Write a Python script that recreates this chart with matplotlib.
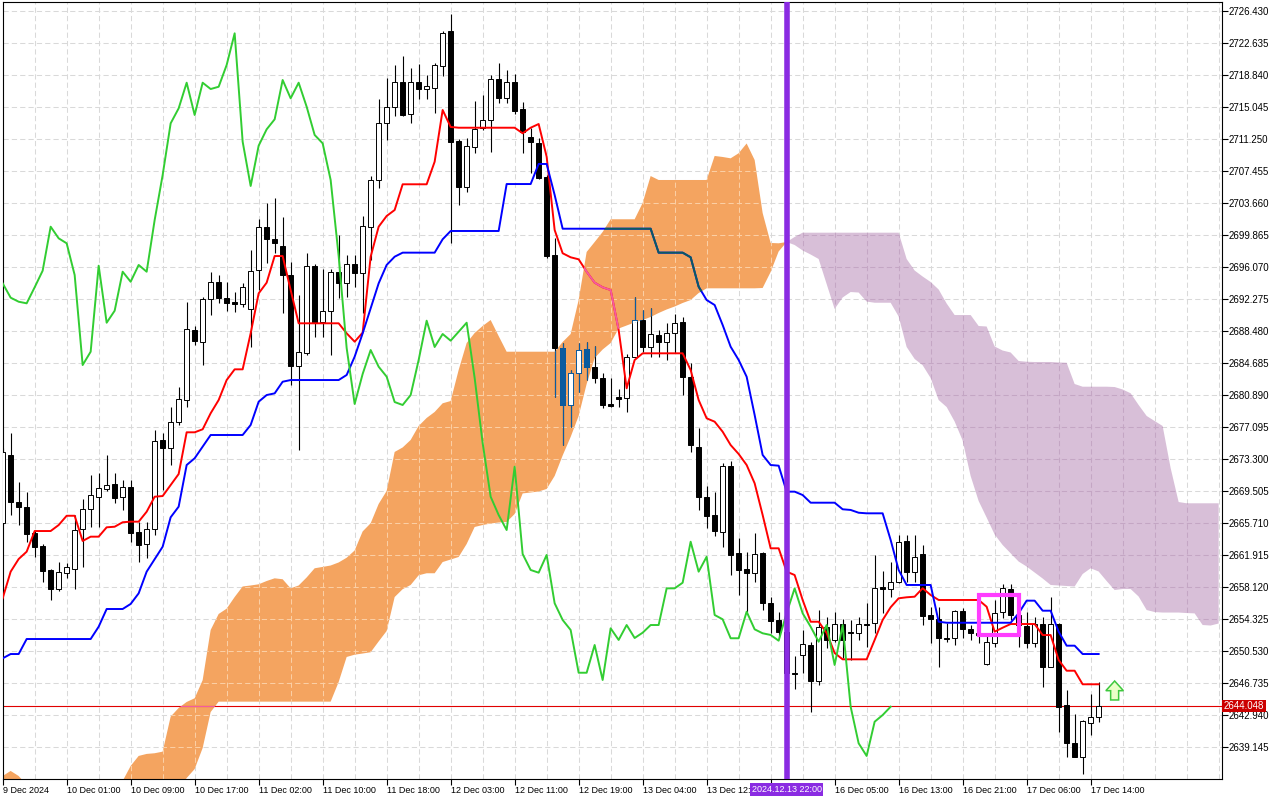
import numpy as np
import matplotlib
matplotlib.use("Agg")
import matplotlib.pyplot as plt
from matplotlib.path import Path
from matplotlib.patches import Rectangle, Polygon

plt.rcParams['font.family'] = ['Liberation Sans', 'DejaVu Sans']

# ======================
# DATA  (gold H1, 9-17 Dec 2024, one value per bar)
# ======================
opens = [
    2665.75, 2673.82, 2668.24, 2667.65, 2664.57, 2663.02, 2660.18, 2657.92, 2659.82, 2660.30,
    2665.04, 2667.41, 2668.83, 2669.78, 2670.38, 2668.83, 2670.02, 2664.69, 2663.26, 2665.04,
    2675.59, 2674.65, 2677.73, 2680.34, 2688.64, 2687.22, 2692.33, 2694.34, 2692.44, 2691.96,
    2691.73, 2691.14, 2695.77, 2700.87, 2699.45, 2698.61, 2695.17, 2684.37, 2685.92, 2696.23,
    2689.60, 2690.90, 2695.53, 2694.22, 2696.47, 2695.41, 2700.87, 2706.44, 2713.20, 2715.10,
    2718.06, 2714.29, 2718.06, 2717.23, 2717.35, 2719.96, 2724.11, 2711.06, 2705.61, 2710.35,
    2712.61, 2713.56, 2718.42, 2716.17, 2718.06, 2714.88, 2711.54, 2710.83, 2706.79, 2697.54,
    2686.51, 2679.75, 2683.54, 2686.39, 2684.25, 2682.95, 2679.87, 2680.70, 2680.58, 2685.44,
    2689.83, 2686.59, 2688.05, 2687.26, 2688.33, 2689.63, 2683.11, 2674.77, 2668.83, 2666.70,
    2664.69, 2672.51, 2662.19, 2660.30, 2659.82, 2662.19, 2656.26, 2654.25, 2652.83, 2647.96,
    2650.09, 2651.28, 2647.01, 2653.42, 2651.88, 2653.77, 2652.83, 2652.71, 2653.77, 2653.89,
    2658.16, 2657.92, 2658.75, 2663.62, 2659.94, 2662.07, 2654.84, 2654.36, 2652.13, 2652.11,
    2655.31, 2653.18, 2652.71, 2649.02, 2651.52, 2655.19, 2657.92, 2654.84, 2653.54, 2651.52,
    2653.77, 2648.67, 2653.77, 2644.17, 2639.66, 2638.00, 2642.03, 2642.74]
highs = [
    2674.65, 2676.43, 2670.61, 2669.43, 2664.80, 2663.26, 2660.30, 2661.12, 2661.01, 2666.70,
    2668.60, 2671.44, 2671.68, 2673.82, 2671.68, 2670.85, 2670.85, 2665.87, 2665.87, 2676.78,
    2676.43, 2679.51, 2681.88, 2691.96, 2689.12, 2692.56, 2695.53, 2695.17, 2694.34, 2693.15,
    2694.22, 2698.14, 2701.82, 2703.71, 2704.30, 2702.05, 2696.71, 2692.80, 2697.78, 2696.47,
    2695.88, 2695.88, 2699.92, 2697.54, 2697.54, 2702.17, 2706.91, 2716.05, 2718.54, 2720.08,
    2721.15, 2719.72, 2720.20, 2718.89, 2720.32, 2724.11, 2726.13, 2711.30, 2711.42, 2715.81,
    2716.52, 2718.89, 2720.32, 2719.49, 2719.01, 2715.69, 2712.61, 2711.42, 2707.03, 2699.57,
    2687.10, 2683.90, 2687.10, 2687.26, 2686.74, 2683.51, 2682.95, 2681.64, 2685.80, 2692.60,
    2691.02, 2691.22, 2688.64, 2689.44, 2690.54, 2690.22, 2684.69, 2677.02, 2670.14, 2669.43,
    2672.87, 2673.11, 2663.97, 2662.31, 2664.57, 2662.31, 2656.97, 2655.19, 2653.66, 2649.97,
    2653.06, 2651.64, 2655.43, 2654.60, 2655.23, 2654.36, 2654.25, 2654.64, 2656.23, 2661.96,
    2660.06, 2661.12, 2664.33, 2664.33, 2664.33, 2663.14, 2655.79, 2655.79, 2653.85, 2655.43,
    2655.67, 2653.66, 2653.30, 2652.47, 2656.62, 2658.51, 2658.51, 2655.19, 2655.19, 2654.60,
    2654.60, 2656.97, 2653.89, 2645.94, 2643.10, 2642.39, 2645.47, 2646.89]
lows = [
    2665.51, 2666.70, 2665.51, 2663.50, 2661.72, 2658.75, 2656.62, 2657.69, 2659.23, 2657.92,
    2660.54, 2665.28, 2665.28, 2669.55, 2668.12, 2667.29, 2663.50, 2661.12, 2661.60, 2664.33,
    2669.66, 2672.63, 2677.38, 2679.51, 2686.86, 2684.49, 2690.42, 2691.85, 2690.90, 2690.78,
    2691.38, 2686.63, 2693.39, 2696.59, 2697.78, 2690.66, 2682.12, 2674.41, 2685.68, 2687.81,
    2687.81, 2685.68, 2692.44, 2692.56, 2693.75, 2690.66, 2696.95, 2705.49, 2711.18, 2714.05,
    2714.05, 2713.20, 2716.05, 2716.05, 2714.39, 2718.78, 2698.97, 2703.47, 2705.02, 2709.64,
    2712.37, 2709.76, 2715.57, 2715.57, 2714.29, 2709.64, 2707.27, 2706.56, 2697.18, 2680.70,
    2675.00, 2677.14, 2681.29, 2682.71, 2682.36, 2679.35, 2679.51, 2679.51, 2678.96, 2685.44,
    2686.04, 2685.47, 2685.47, 2685.09, 2685.88, 2680.93, 2674.21, 2667.29, 2665.16, 2664.21,
    2662.91, 2659.58, 2657.21, 2655.19, 2658.75, 2655.43, 2652.69, 2652.23, 2647.72, 2646.06,
    2647.96, 2643.34, 2646.54, 2650.92, 2651.64, 2649.73, 2649.50, 2651.88, 2651.04, 2652.71,
    2655.07, 2656.97, 2658.63, 2658.75, 2658.75, 2653.66, 2651.48, 2648.71, 2651.67, 2651.28,
    2652.11, 2651.88, 2651.52, 2648.90, 2651.04, 2654.48, 2654.25, 2651.04, 2650.92, 2651.04,
    2646.30, 2648.67, 2640.96, 2638.00, 2638.00, 2635.98, 2640.60, 2642.15]
closes = [
    2674.17, 2668.24, 2667.65, 2664.45, 2662.90, 2660.06, 2657.92, 2659.94, 2660.54, 2664.92,
    2667.41, 2669.07, 2669.90, 2670.26, 2668.72, 2670.02, 2664.57, 2663.14, 2665.04, 2675.48,
    2674.65, 2677.73, 2680.46, 2688.76, 2687.34, 2692.33, 2694.34, 2692.44, 2691.85, 2691.73,
    2693.75, 2695.65, 2700.87, 2699.45, 2698.97, 2695.17, 2684.37, 2686.03, 2696.23, 2689.48,
    2690.90, 2695.53, 2694.22, 2696.47, 2695.41, 2700.99, 2706.44, 2713.20, 2715.10, 2718.06,
    2714.17, 2718.06, 2717.23, 2717.59, 2720.08, 2723.88, 2710.94, 2705.61, 2710.47, 2712.49,
    2713.56, 2718.42, 2716.17, 2718.06, 2714.64, 2712.13, 2710.94, 2706.67, 2697.42, 2686.51,
    2679.75, 2683.54, 2686.27, 2684.25, 2682.95, 2679.75, 2679.63, 2680.46, 2685.44, 2689.83,
    2686.63, 2688.17, 2687.26, 2688.33, 2689.51, 2683.11, 2675.00, 2668.83, 2666.58, 2664.81,
    2672.51, 2661.96, 2660.18, 2659.82, 2662.07, 2656.26, 2654.13, 2652.83, 2647.96, 2647.84,
    2651.40, 2647.01, 2653.42, 2651.88, 2653.77, 2651.88, 2652.71, 2653.77, 2653.66, 2658.04,
    2657.92, 2658.75, 2663.50, 2659.94, 2661.72, 2654.72, 2654.36, 2652.11, 2652.01, 2655.31,
    2653.18, 2652.71, 2652.47, 2651.60, 2655.07, 2658.04, 2654.84, 2653.66, 2651.52, 2653.77,
    2648.67, 2653.77, 2643.93, 2639.66, 2638.00, 2642.27, 2642.74, 2644.05]

tenkan = [
    2656.82, 2659.98, 2661.48, 2662.35, 2664.80, 2664.80, 2664.80, 2665.51, 2666.61, 2666.61,
    2663.62, 2664.13, 2664.13, 2665.24, 2665.31, 2665.84, 2665.91, 2665.91, 2667.09, 2668.87,
    2668.95, 2670.26, 2671.56, 2676.51, 2676.51, 2676.87, 2678.77, 2680.34, 2682.71, 2683.98,
    2683.98, 2688.25, 2692.99, 2694.26, 2697.42, 2697.42, 2693.39, 2689.44, 2689.44, 2689.44,
    2689.44, 2689.44, 2689.44, 2688.25, 2687.26, 2688.33, 2697.34, 2700.90, 2702.17, 2702.88,
    2705.93, 2705.93, 2705.93, 2705.93, 2708.61, 2714.74, 2712.73, 2712.64, 2712.64, 2712.64,
    2712.64, 2712.64, 2712.64, 2712.64, 2712.64, 2711.98, 2712.64, 2713.08, 2709.20, 2700.51,
    2697.75, 2697.27, 2697.03, 2695.56, 2694.26, 2693.71, 2693.39, 2688.65, 2681.73, 2685.09,
    2685.88, 2685.88, 2685.88, 2685.88, 2685.88, 2685.88, 2683.90, 2680.34, 2678.17, 2677.77,
    2676.58, 2675.00, 2673.94, 2672.63, 2670.46, 2666.70, 2662.75, 2662.75, 2659.98, 2659.58,
    2656.62, 2654.04, 2654.04, 2652.71, 2650.33, 2649.58, 2649.58, 2649.58, 2649.58, 2651.88,
    2654.25, 2655.76, 2656.82, 2656.94, 2657.01, 2658.01, 2657.21, 2656.62, 2656.62, 2656.62,
    2656.62, 2656.62, 2656.62, 2655.82, 2652.86, 2653.33, 2653.77, 2653.77, 2653.77, 2653.77,
    2652.46, 2652.46, 2649.50, 2648.23, 2648.23, 2646.62, 2646.62, 2646.62]
kijun = [
    2649.70, 2650.21, 2650.21, 2651.99, 2651.99, 2651.99, 2651.99, 2651.99, 2651.99, 2651.99,
    2651.99, 2651.99, 2653.45, 2655.55, 2655.55, 2655.55, 2656.15, 2657.41, 2659.98, 2661.45,
    2662.94, 2666.43, 2667.69, 2672.63, 2673.43, 2674.81, 2676.19, 2676.19, 2676.19, 2676.19,
    2676.19, 2677.38, 2680.14, 2680.93, 2681.13, 2682.51, 2682.71, 2682.71, 2682.71, 2682.71,
    2682.71, 2682.71, 2682.71, 2683.31, 2685.48, 2688.25, 2691.22, 2694.18, 2696.36, 2697.34,
    2697.82, 2697.82, 2697.82, 2697.82, 2697.82, 2699.41, 2700.39, 2700.39, 2700.39, 2700.39,
    2700.39, 2700.39, 2700.39, 2705.96, 2705.96, 2705.96, 2705.96, 2708.34, 2708.34, 2704.66,
    2700.66, 2700.66, 2700.66, 2700.66, 2700.66, 2700.66, 2700.66, 2700.66, 2700.66, 2700.66,
    2700.66, 2700.66, 2697.82, 2697.82, 2697.82, 2697.82, 2697.27, 2693.78, 2692.20, 2691.61,
    2689.24, 2686.66, 2685.09, 2683.10, 2678.56, 2673.82, 2672.63, 2672.55, 2669.47, 2669.47,
    2669.07, 2668.16, 2668.16, 2668.16, 2668.16, 2667.38, 2667.30, 2666.97, 2666.90, 2666.90,
    2666.90, 2663.74, 2660.18, 2658.40, 2658.40, 2658.40, 2658.40, 2654.04, 2653.92, 2653.92,
    2653.92, 2653.92, 2653.92, 2653.92, 2653.92, 2653.92, 2653.92, 2655.04, 2656.54, 2656.54,
    2655.35, 2655.35, 2652.86, 2651.20, 2651.20, 2650.21, 2650.21, 2650.21]
chikou = [
    2694.18, 2692.48, 2692.00, 2691.81, 2693.71, 2695.68, 2700.90, 2699.52, 2698.93, 2695.17,
    2684.49, 2686.07, 2696.27, 2689.51, 2690.93, 2695.56, 2694.37, 2696.36, 2695.56, 2701.69,
    2707.03, 2713.16, 2714.94, 2717.98, 2714.15, 2717.98, 2717.23, 2717.50, 2720.08, 2723.84,
    2710.98, 2705.73, 2710.51, 2712.45, 2713.64, 2718.30, 2716.13, 2717.98, 2715.13, 2711.78,
    2710.79, 2706.44, 2697.42, 2686.51, 2679.87, 2683.43, 2686.27, 2684.29, 2683.11, 2680.10,
    2679.75, 2680.93, 2685.09, 2689.75, 2686.63, 2688.17, 2687.38, 2688.44, 2689.51, 2682.95,
    2675.24, 2668.87, 2666.70, 2664.92, 2672.43, 2662.07, 2660.18, 2659.86, 2661.96, 2656.23,
    2654.25, 2653.06, 2647.99, 2647.99, 2651.28, 2647.13, 2653.26, 2651.88, 2653.65, 2652.11,
    2652.74, 2653.65, 2653.65, 2658.00, 2658.00, 2658.67, 2663.53, 2659.98, 2661.75, 2654.84,
    2654.33, 2652.08, 2652.08, 2655.23, 2653.14, 2652.67, 2652.47, 2651.79, 2655.08, 2658.00,
    2655.04, 2653.45, 2651.67, 2653.65, 2648.91, 2653.65, 2643.96, 2639.62, 2638.12, 2642.18,
    2642.97, 2643.96]
span_a = [
    2635.74, 2636.34, 2635.74, 2634.69, 2633.49, 2633.49, 2633.49, 2633.49, 2633.49, 2633.49,
    2633.49, 2633.49, 2633.49, 2633.49, 2633.49, 2635.15, 2636.93, 2638.12, 2638.36, 2638.44,
    2638.63, 2642.78, 2643.81, 2644.52, 2644.96, 2647.11, 2653.06, 2654.96, 2655.59, 2656.97,
    2658.22, 2658.34, 2658.48, 2658.87, 2659.19, 2659.08, 2658.00, 2658.34, 2659.29, 2660.38,
    2660.54, 2660.71, 2661.07, 2661.63, 2662.49, 2664.75, 2665.72, 2668.01, 2669.55, 2674.18,
    2674.71, 2675.60, 2677.26, 2678.21, 2678.92, 2679.95, 2680.22, 2683.90, 2687.10, 2688.29,
    2689.12, 2689.83, 2687.93, 2686.07, 2686.07, 2686.07, 2686.07, 2686.07, 2686.07, 2686.07,
    2687.22, 2688.17, 2692.20, 2697.90, 2699.08, 2700.27, 2701.78, 2701.78, 2701.78, 2701.78,
    2703.71, 2706.91, 2706.44, 2706.44, 2706.44, 2706.44, 2706.44, 2706.44, 2706.44, 2709.29,
    2709.17, 2709.01, 2709.61, 2710.77, 2708.81, 2702.52, 2698.97, 2698.93, 2699.08, 2698.73,
    2698.08, 2697.60, 2697.07, 2694.10, 2691.14, 2692.50, 2693.15, 2693.09, 2692.02, 2691.88,
    2691.88, 2691.88, 2690.25, 2686.63, 2685.21, 2684.47, 2682.95, 2680.34, 2679.51, 2677.79,
    2675.54, 2671.33, 2668.36, 2666.40, 2664.39, 2663.14, 2662.16, 2661.18, 2660.59, 2659.88,
    2659.17, 2658.40, 2658.34, 2658.28, 2658.22, 2659.70, 2660.38, 2660.00, 2658.87, 2657.80,
    2657.92, 2657.92, 2657.03, 2655.43, 2655.19, 2655.13, 2655.13, 2655.13, 2655.07, 2655.03,
    2653.65, 2653.59, 2653.83]
span_b = [
    2632.90, 2632.90, 2632.90, 2632.90, 2632.90, 2632.90, 2632.90, 2632.90, 2632.90, 2632.90,
    2632.90, 2632.90, 2632.90, 2632.90, 2632.90, 2632.90, 2632.90, 2632.90, 2632.90, 2632.90,
    2632.90, 2632.90, 2634.08, 2635.50, 2636.57, 2639.06, 2643.33, 2644.56, 2644.56, 2644.56,
    2644.56, 2644.56, 2644.56, 2644.56, 2644.56, 2644.56, 2644.56, 2644.56, 2644.56, 2644.56,
    2644.56, 2644.56, 2646.89, 2649.86, 2650.13, 2650.27, 2650.42, 2651.70, 2652.94, 2656.97,
    2657.90, 2658.40, 2659.55, 2659.79, 2659.79, 2661.12, 2661.42, 2661.72, 2663.26, 2665.28,
    2665.51, 2665.69, 2665.81, 2665.87, 2666.82, 2669.26, 2669.37, 2669.49, 2669.79, 2671.33,
    2673.76, 2675.96, 2678.45, 2682.24, 2685.32, 2686.33, 2687.10, 2688.82, 2689.18, 2689.54,
    2689.83, 2690.19, 2690.66, 2691.08, 2691.43, 2691.85, 2692.20, 2693.03, 2693.59, 2693.59,
    2693.59, 2693.59, 2693.59, 2693.59, 2693.59, 2693.63, 2695.53, 2697.96, 2699.08, 2699.68,
    2700.19, 2700.19, 2700.19, 2700.19, 2700.19, 2700.19, 2700.19, 2700.19, 2700.19, 2700.19,
    2700.19, 2700.19, 2700.19, 2697.07, 2695.70, 2694.99, 2694.34, 2693.45, 2691.79, 2690.42,
    2690.42, 2690.42, 2689.12, 2689.06, 2686.69, 2686.21, 2685.98, 2684.97, 2684.88, 2684.85,
    2684.85, 2684.85, 2684.79, 2684.76, 2682.24, 2681.92, 2681.92, 2681.92, 2681.92, 2681.88,
    2681.59, 2681.14, 2679.75, 2678.45, 2677.85, 2677.26, 2672.27, 2668.24, 2668.09, 2668.09,
    2668.09, 2668.09, 2668.09]

# one label every 8 bars; the one under the event tag is not shown
x_labels = ["9 Dec 2024", "10 Dec 01:00", "10 Dec 09:00", "10 Dec 17:00", "11 Dec 02:00",
            "11 Dec 10:00", "11 Dec 18:00", "12 Dec 03:00", "12 Dec 11:00", "12 Dec 19:00",
            "13 Dec 04:00", "13 Dec 12:00", "", "16 Dec 05:00", "16 Dec 13:00",
            "16 Dec 21:00", "17 Dec 06:00", "17 Dec 14:00"]
price_ticks = [2726.430, 2722.635, 2718.840, 2715.045, 2711.250, 2707.455, 2703.660, 2699.865,
               2696.070, 2692.275, 2688.480, 2684.685, 2680.890, 2677.095, 2673.300, 2669.505,
               2665.710, 2661.915, 2658.120, 2654.325, 2650.530, 2646.735, 2642.940, 2639.145]
last_price = 2644.048
event_bar = 98
event_label = "2024.12.13 22:00"
box_bars = (122.1, 127.0)
box_prices = (2652.50, 2657.17)
signal_bar = 139
signal_price = 2645.86

# ======================
# STYLE
# ======================
C_ORANGE = '#f4a460'
C_THISTLE = '#d8bfd8'
C_GRID = '#d9d9d9'
IN_BLACK = '#0b5b9f'     # black seen through the cloud
IN_BLUE = '#0b5b60'
IN_RED = '#f45b9f'

fig = plt.figure(figsize=(12.8, 8), dpi=100)
ax = fig.add_axes([2.5 / 1280, 21 / 800, 1219.5 / 1280, 777 / 800])
ax.set_xlim(-0.02, 152.42)
ax.set_ylim(2635.385, 2727.553)
y0, y1 = ax.get_ylim()
x0, x1 = ax.get_xlim()

o = np.array(opens); h = np.array(highs); l = np.array(lows); c = np.array(closes)
xb = np.arange(len(c))
bull = c >= o
lo_body = np.minimum(o, c)
body = np.maximum(np.abs(c - o), 0.15)

# cloud
a = np.array(span_a); b = np.array(span_b); xc = np.arange(len(a))
up_cloud = ax.fill_between(xc, a, b, where=a >= b, interpolate=True,
                           facecolor=C_ORANGE, edgecolor='none', zorder=1)
dn_cloud = ax.fill_between(xc, a, b, where=a <= b, interpolate=True,
                           facecolor=C_THISTLE, edgecolor='none', zorder=1)
orange_clip = Path.make_compound_path(*up_cloud.get_paths())
purple_clip = Path.make_compound_path(*dn_cloud.get_paths())


def grid(col, z, clip=None):
    gv = ax.vlines(np.arange(4, 153, 4), y0, y1, colors=col, lw=0.75, zorder=z)
    gh = ax.hlines(price_ticks, x0, x1, colors=col, lw=0.75, zorder=z)
    for g in (gv, gh):
        g.set_linestyle((0, (5, 3)))
        if clip is not None:
            g.set_clip_path(clip, ax.transData)


grid(C_GRID, 0.5)
grid('#fbcfa4', 1.2, orange_clip)
grid('#c4a6c4', 1.2, purple_clip)


def candles(wick_col, bear_col, edge_col, z, clip=None):
    wk = ax.vlines(xb, l, h, colors=wick_col, lw=0.8, zorder=z)
    bs = ax.bar(xb, body, bottom=lo_body, width=0.56,
                color=np.where(bull, 'white', bear_col), edgecolor=edge_col,
                linewidth=0.7, zorder=z + 0.05)
    if clip is not None:
        wk.set_clip_path(clip, ax.transData)
        for p in bs.patches:
            p.set_clip_path(clip, ax.transData)


def line(vals, col, z, clip=None):
    ln, = ax.plot(np.arange(len(vals)), vals, color=col, lw=1.4, zorder=z)
    if clip is not None:
        ln.set_clip_path(clip, ax.transData)


# current price line
pl = ax.axhline(last_price, color='#e00000', lw=0.8, zorder=2.5)
pl2 = ax.axhline(last_price, color=IN_RED, lw=0.8, zorder=2.6)
pl2.set_clip_path(orange_clip, ax.transData)

candles('black', 'black', 'black', 3)
candles(IN_BLACK, IN_BLACK, IN_BLACK, 3.1, orange_clip)

line(tenkan, '#ff0000', 5)
line(tenkan, IN_RED, 5.1, orange_clip)
line(kijun, '#0000ff', 5)
line(kijun, IN_BLUE, 5.1, orange_clip)
line(chikou, '#32cd32', 5.5)

# marks
ax.axvline(event_bar, color='#8a2be2', lw=4, zorder=9)
ax.add_patch(Rectangle((box_bars[0], box_prices[0]), box_bars[1] - box_bars[0],
                       box_prices[1] - box_prices[0], fill=False,
                       edgecolor='#ff3cff', lw=3, zorder=10))
hw, sw, hh, sh = 1.1, 0.5, 1.15, 1.1
arrow = [(signal_bar, signal_price + hh), (signal_bar - hw, signal_price),
         (signal_bar - sw, signal_price), (signal_bar - sw, signal_price - sh),
         (signal_bar + sw, signal_price - sh), (signal_bar + sw, signal_price),
         (signal_bar + hw, signal_price)]
ax.add_patch(Polygon(arrow, closed=True, facecolor='#eaffc8', edgecolor='#3ec83e',
                     lw=1.1, zorder=10))

# axes
ax.set_xticks(np.arange(len(x_labels)) * 8)
ax.set_xticklabels(x_labels, ha='left', fontsize=6.5)
ax.yaxis.tick_right()
ax.set_yticks(price_ticks)
ax.set_yticklabels([f'{v:.3f}' for v in price_ticks], fontsize=7)
ax.tick_params(axis='x', length=4, width=0.8, pad=1)
ax.tick_params(axis='y', length=4, width=0.8, pad=1)
for s in ax.spines.values():
    s.set_linewidth(0.8)
    s.set_color('black')

ax.text(event_bar, -0.0075, event_label, transform=ax.get_xaxis_transform(),
        ha='center', va='top', fontsize=6.5, color='white', zorder=30, clip_on=False,
        bbox=dict(boxstyle='square,pad=0.2', facecolor='#8a2be2', edgecolor='none'))
ax.text(1.0016, last_price, f'{last_price:.3f}', transform=ax.get_yaxis_transform(),
        ha='left', va='center', fontsize=7, color='white', zorder=30, clip_on=False,
        bbox=dict(boxstyle='square,pad=0.15', facecolor='#cc0000', edgecolor='none'))

fig.savefig('out.png', dpi=100)
